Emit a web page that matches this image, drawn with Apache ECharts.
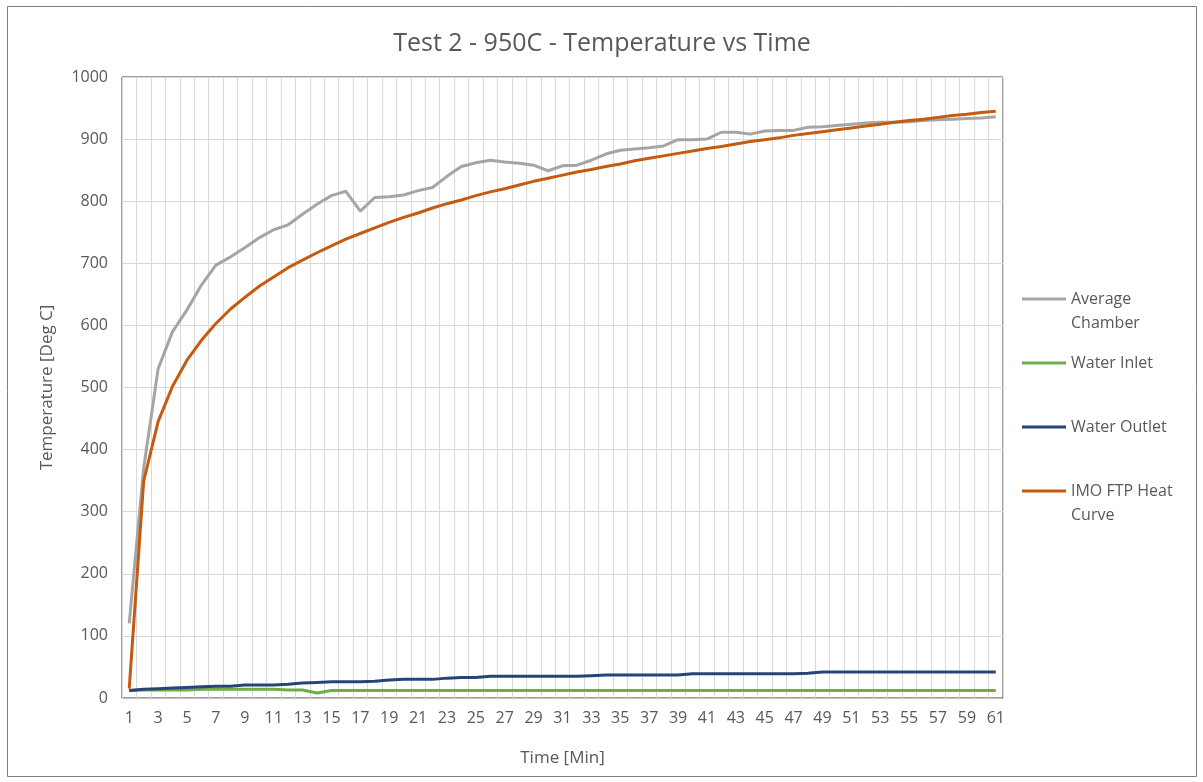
<!DOCTYPE html>
<html>
<head>
<meta charset="utf-8">
<script src="https://cdn.jsdelivr.net/npm/echarts@6/dist/echarts.min.js"></script>
<style>html,body{margin:0;padding:0;background:#fff}#c{width:1203px;height:782px}</style>
</head>
<body>
<div id="c"></div>
<script>
const categories = ['1','2','3','4','5','6','7','8','9','10','11','12','13','14','15','16','17','18','19','20','21','22','23','24','25','26','27','28','29','30','31','32','33','34','35','36','37','38','39','40','41','42','43','44','45','46','47','48','49','50','51','52','53','54','55','56','57','58','59','60','61'];
const averageChamber = [120,370,530,590,625,665,697,710,725,741,754,762,779,795,809,816,784,806,807,810,817,822,840,856,862,866,863,861,858,849,857,858,866,876,882,884,886,889,899,899,900,911,911,908,913,914,914,919,920,922,924,926,927,927,928,930,931,932,933,934,936];
const waterInlet = [12,13,13,13,13,14,14,14,14,14,14,13,13,8,12,12,12,12,12,12,12,12,12,12,12,12,12,12,12,12,12,12,12,12,12,12,12,12,12,12,12,12,12,12,12,12,12,12,12,12,12,12,12,12,12,12,12,12,12,12,12];
const waterOutlet = [12,14,15,16,17,18,19,19,21,21,21,22,24,25,26,26,26,27,29,30,30,30,32,33,33,35,35,35,35,35,35,35,36,37,37,37,37,37,37,39,39,39,39,39,39,39,39,40,42,42,42,42,42,42,42,42,42,42,42,42,42];
const imoCurve = [15,349,445,502,544,576,603,626,645,663,678,693,705,717,728,739,748,757,766,774,781,789,796,802,809,815,820,826,832,837,842,847,851,856,860,865,869,873,877,881,885,888,892,896,899,902,906,909,912,915,918,921,924,927,930,932,935,938,940,943,945];
const legendLabels = {
  'Average Chamber': ' \nAverage\nChamber',
  'Water Inlet': 'Water Inlet',
  'Water Outlet': 'Water Outlet',
  'IMO FTP Heat Curve': ' \nIMO FTP Heat\nCurve'
};

const FONT = 'Open Sans';
const TXT = '#595959';
const chart = echarts.init(document.getElementById('c'), null, {renderer: 'canvas'});

function leg(name, top) {
  return {
    data: [name], left: 1022, top: top, orient: 'vertical', padding: 0,
    icon: 'rect', itemWidth: 44, itemHeight: 3, itemGap: 0, selectedMode: false,
    formatter: n => legendLabels[n],
    textStyle: {fontFamily: FONT, fontSize: 16, color: TXT, lineHeight: 24}
  };
}

chart.setOption({
  animation: false,
  backgroundColor: '#fff',
  title: {
    text: 'Test 2 - 950C - Temperature vs Time', left: 597, textAlign: 'center', top: 26,
    textStyle: {fontFamily: FONT, fontSize: 25, fontWeight: 'normal', color: TXT}
  },
  graphic: [{
    type: 'rect', shape: {x: 7.5, y: 6.5, width: 1189, height: 770},
    style: {fill: 'none', stroke: '#7f7f7f', lineWidth: 1}, silent: true, z: -1
  }],
  legend: [
    leg('Average Chamber', 263),
    leg('Water Inlet', 351),
    leg('Water Outlet', 415),
    leg('IMO FTP Heat Curve', 455)
  ],
  grid: {left: 122, top: 77, right: 200, bottom: 84, show: true, borderColor: '#404040', borderWidth: 1, containLabel: false},
  xAxis: {
    type: 'category', data: categories, boundaryGap: true,
    name: 'Time [Min]', nameLocation: 'middle', nameGap: 52,
    nameTextStyle: {fontFamily: FONT, fontSize: 17, color: TXT},
    axisLine: {lineStyle: {color: '#bfbfbf'}},
    axisTick: {show: false},
    axisLabel: {interval: 1, fontFamily: FONT, fontSize: 16, color: TXT, margin: 12},
    splitLine: {show: true, interval: 0, lineStyle: {color: '#d9d9d9', width: 1}}
  },
  yAxis: {
    type: 'value', min: 0, max: 1000, interval: 100,
    name: 'Temperature [Deg C]', nameLocation: 'middle', nameGap: 66, nameRotate: 90,
    nameTextStyle: {fontFamily: FONT, fontSize: 17, color: TXT},
    axisLine: {show: false}, axisTick: {show: false},
    axisLabel: {fontFamily: FONT, fontSize: 16, color: TXT, margin: 14, formatter: v => String(v)},
    splitLine: {lineStyle: {color: '#d9d9d9', width: 1}}
  },
  series: [
    {name: 'Average Chamber', type: 'line', data: averageChamber, showSymbol: false, lineStyle: {width: 3, color: '#a5a5a5'}, itemStyle: {color: '#a5a5a5'}},
    {name: 'Water Inlet', type: 'line', data: waterInlet, showSymbol: false, lineStyle: {width: 3, color: '#70ad47'}, itemStyle: {color: '#70ad47'}},
    {name: 'Water Outlet', type: 'line', data: waterOutlet, showSymbol: false, lineStyle: {width: 3, color: '#264478'}, itemStyle: {color: '#264478'}},
    {name: 'IMO FTP Heat Curve', type: 'line', data: imoCurve, showSymbol: false, lineStyle: {width: 3, color: '#c55a11'}, itemStyle: {color: '#c55a11'}}
  ]
});
</script>
</body>
</html>
